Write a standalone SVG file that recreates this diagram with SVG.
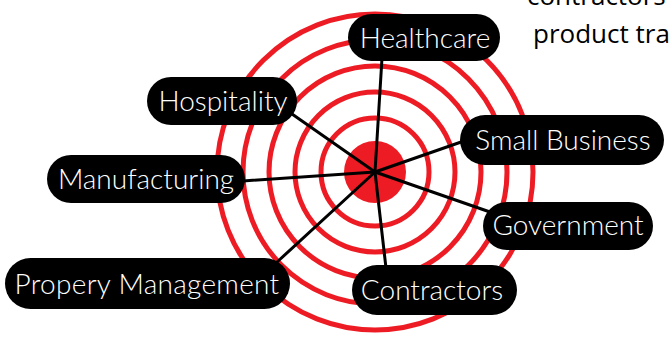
<svg xmlns="http://www.w3.org/2000/svg" width="670" height="338" viewBox="0 0 670 338">
  <style>
    .ring { fill: none; stroke: #ED1C24; stroke-width: 5; }
    .spoke { stroke: #000; stroke-width: 3; stroke-linecap: round; }
    .pill { fill: #000; }
    .lbl { fill: #fff; font-family: Lato, "Open Sans", "Liberation Sans", sans-serif; font-weight: 300; font-size: 28px; text-anchor: middle; }
    .note { fill: #000; font-family: "Open Sans", "Noto Sans", "Liberation Sans", sans-serif; font-size: 26px; }
  </style>
  <rect width="670" height="338" fill="#fff"/>
  <g id="target">
    <circle class="ring" cx="375" cy="172" r="158"/>
    <circle class="ring" cx="375" cy="172" r="132"/>
    <circle class="ring" cx="375" cy="172" r="106"/>
    <circle class="ring" cx="375" cy="172" r="80"/>
    <circle class="ring" cx="375" cy="172" r="54"/>
    <circle cx="375" cy="172" r="31" fill="#ED1C24"/>
  </g>
  <g id="connectors">
    <line class="spoke" x1="375" y1="172" x2="382" y2="58"/>
    <line class="spoke" x1="375" y1="172" x2="292" y2="114"/>
    <line class="spoke" x1="375" y1="172" x2="243" y2="181"/>
    <line class="spoke" x1="375" y1="172" x2="276" y2="263"/>
    <line class="spoke" x1="375" y1="172" x2="386" y2="268"/>
    <line class="spoke" x1="375" y1="172" x2="464" y2="141"/>
    <line class="spoke" x1="375" y1="172" x2="490" y2="212"/>
  </g>
  <g id="healthcare">
    <rect class="pill" x="348" y="14" width="152" height="47" rx="23.5"/>
    <text class="lbl" x="425" y="48">Healthcare</text>
  </g>
  <g id="hospitality">
    <rect class="pill" x="147" y="77" width="150" height="48" rx="24"/>
    <text class="lbl" x="223" y="111">Hospitality</text>
  </g>
  <g id="manufacturing">
    <rect class="pill" x="47" y="155" width="198" height="48" rx="24"/>
    <text class="lbl" x="146" y="189">Manufacturing</text>
  </g>
  <g id="property-management">
    <rect class="pill" x="5" y="258" width="285" height="51" rx="25.5"/>
    <text class="lbl" x="147" y="294" letter-spacing="0.3">Propery Management</text>
  </g>
  <g id="contractors">
    <rect class="pill" x="352" y="265" width="165" height="50" rx="25"/>
    <text class="lbl" x="432" y="300">Contractors</text>
  </g>
  <g id="small-business">
    <rect class="pill" x="460" y="115" width="204" height="50" rx="25"/>
    <text class="lbl" x="563" y="150">Small Business</text>
  </g>
  <g id="government">
    <rect class="pill" x="483" y="202" width="170" height="48" rx="24"/>
    <text class="lbl" x="568" y="235">Government</text>
  </g>
  <g id="note">
    <text class="note" x="527" y="5">contractors</text>
    <text class="note" x="533" y="43">product tra</text>
  </g>
</svg>
